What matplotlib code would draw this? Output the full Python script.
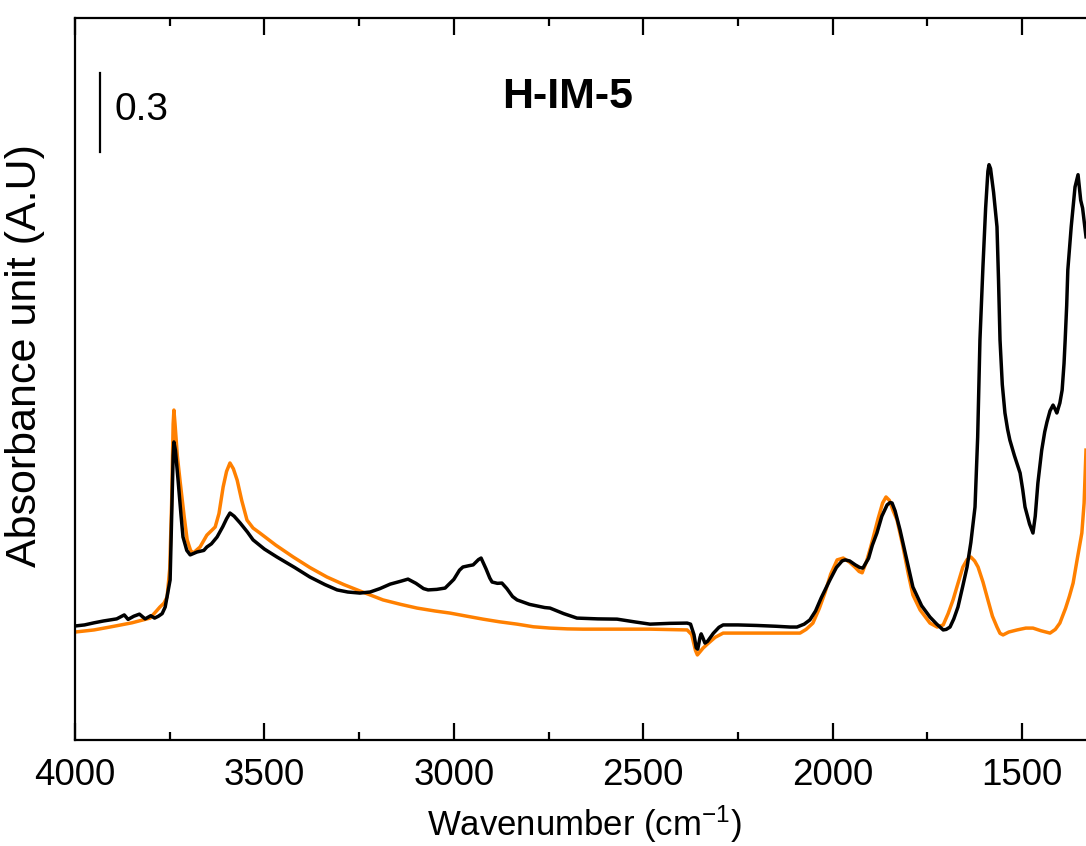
import matplotlib
matplotlib.use('Agg')
import matplotlib.pyplot as plt
from matplotlib.ticker import MultipleLocator

plt.rcParams['font.family'] = ['Liberation Sans', 'DejaVu Sans']
plt.rcParams['mathtext.fontset'] = 'custom'
plt.rcParams['mathtext.rm'] = 'Liberation Sans'
plt.rcParams['mathtext.default'] = 'regular'

# H-IM-5 spectra, wavenumber (cm-1) vs absorbance (A.U, arbitrary offset)
wn_black = [4000, 3975, 3950, 3925, 3908, 3890, 3870, 3860, 3845, 3830, 3815, 3800,
            3790, 3780, 3770, 3762, 3749, 3745, 3741, 3739, 3735, 3728, 3720, 3715,
            3705, 3696, 3678, 3660, 3652, 3640, 3625, 3610, 3600, 3591, 3580, 3564,
            3545, 3530, 3500, 3467, 3420, 3380, 3340, 3308, 3280, 3248, 3221, 3195,
            3168, 3140, 3121, 3100, 3080, 3068, 3045, 3023, 3000, 2985, 2976, 2960,
            2949, 2935, 2928, 2915, 2905, 2899, 2885, 2873, 2860, 2845, 2833, 2800,
            2760, 2746, 2710, 2675, 2620, 2569, 2520, 2482, 2430, 2384, 2375, 2366,
            2360, 2356, 2350, 2347, 2343, 2337, 2330, 2315, 2300, 2289, 2250, 2200,
            2150, 2112, 2094, 2075, 2060, 2045, 2030, 2007, 1990, 1975, 1967, 1955,
            1940, 1928, 1920, 1905, 1895, 1883, 1870, 1856, 1848, 1843, 1835, 1822,
            1805, 1788, 1765, 1743, 1725, 1708, 1700, 1690, 1680, 1669, 1657, 1645,
            1635, 1624, 1617, 1611, 1603, 1596, 1590, 1587, 1583, 1575, 1566, 1562,
            1558, 1552, 1545, 1538, 1532, 1520, 1505, 1498, 1492, 1480, 1471, 1465,
            1458, 1448, 1440, 1434, 1426, 1418, 1412, 1408, 1400, 1394, 1389, 1386,
            1382, 1379, 1370, 1360, 1355, 1352, 1345, 1340, 1331]
ab_black = [0.433, 0.437, 0.445, 0.452, 0.456, 0.460, 0.475, 0.458, 0.470, 0.478, 0.460, 0.472,
            0.463, 0.470, 0.480, 0.505, 0.608, 0.850, 1.080, 1.132, 1.100, 0.987, 0.850, 0.771,
            0.720, 0.703, 0.714, 0.720, 0.733, 0.745, 0.771, 0.810, 0.840, 0.862, 0.850, 0.824,
            0.790, 0.760, 0.725, 0.695, 0.655, 0.619, 0.590, 0.570, 0.562, 0.558, 0.562, 0.575,
            0.592, 0.603, 0.611, 0.595, 0.575, 0.570, 0.572, 0.577, 0.610, 0.645, 0.657, 0.662,
            0.665, 0.685, 0.691, 0.650, 0.615, 0.600, 0.595, 0.596, 0.575, 0.545, 0.532, 0.515,
            0.503, 0.501, 0.480, 0.463, 0.460, 0.459, 0.448, 0.440, 0.443, 0.444, 0.440, 0.400,
            0.350, 0.345, 0.390, 0.403, 0.390, 0.368, 0.375, 0.405, 0.428, 0.437, 0.437, 0.435,
            0.432, 0.429, 0.429, 0.440, 0.456, 0.490, 0.540, 0.608, 0.655, 0.680, 0.684, 0.680,
            0.665, 0.655, 0.653, 0.690, 0.740, 0.786, 0.850, 0.893, 0.902, 0.900, 0.870, 0.798,
            0.690, 0.581, 0.510, 0.467, 0.440, 0.418, 0.420, 0.429, 0.460, 0.505, 0.580, 0.657,
            0.750, 0.885, 1.150, 1.519, 1.800, 2.020, 2.160, 2.185, 2.170, 2.080, 1.949, 1.750,
            1.519, 1.350, 1.242, 1.180, 1.139, 1.080, 1.014, 0.950, 0.885, 0.820, 0.786, 0.850,
            0.976, 1.100, 1.170, 1.208, 1.250, 1.272, 1.255, 1.242, 1.280, 1.329, 1.430, 1.519,
            1.650, 1.785, 1.950, 2.100, 2.130, 2.147, 2.050, 2.020, 1.911]

wn_orange = [4000, 3950, 3908, 3850, 3802, 3785, 3776, 3765, 3757, 3750, 3745, 3741,
             3739, 3736, 3730, 3723, 3712, 3704, 3695, 3688, 3670, 3652, 3630, 3620,
             3609, 3600, 3591, 3582, 3572, 3560, 3546, 3530, 3512, 3470, 3424, 3380,
             3335, 3290, 3248, 3187, 3140, 3097, 3050, 3010, 2965, 2923, 2880, 2833,
             2790, 2746, 2700, 2659, 2482, 2384, 2372, 2362, 2357, 2350, 2342, 2330,
             2310, 2289, 2131, 2086, 2070, 2052, 2035, 2020, 2005, 1988, 1972, 1955,
             1940, 1930, 1922, 1910, 1900, 1893, 1880, 1868, 1859, 1850, 1840, 1830,
             1815, 1800, 1788, 1769, 1743, 1724, 1708, 1695, 1682, 1670, 1656, 1645,
             1635, 1625, 1616, 1603, 1590, 1578, 1566, 1558, 1550, 1535, 1513, 1490,
             1471, 1450, 1426, 1412, 1400, 1385, 1375, 1365, 1355, 1342, 1336, 1331]
ab_orange = [0.410, 0.418, 0.429, 0.445, 0.463, 0.490, 0.505, 0.520, 0.543, 0.650, 0.900, 1.200,
             1.253, 1.200, 1.080, 0.987, 0.850, 0.760, 0.720, 0.710, 0.733, 0.778, 0.809, 0.860,
             0.961, 1.020, 1.052, 1.030, 0.987, 0.910, 0.835, 0.805, 0.786, 0.740, 0.695, 0.655,
             0.619, 0.590, 0.566, 0.532, 0.515, 0.501, 0.490, 0.482, 0.470, 0.459, 0.449, 0.440,
             0.430, 0.425, 0.422, 0.421, 0.421, 0.418, 0.400, 0.340, 0.323, 0.335, 0.349, 0.365,
             0.390, 0.406, 0.406, 0.406, 0.420, 0.444, 0.500, 0.560, 0.630, 0.684, 0.691, 0.675,
             0.655, 0.640, 0.635, 0.680, 0.730, 0.768, 0.840, 0.900, 0.923, 0.910, 0.870, 0.836,
             0.740, 0.630, 0.551, 0.494, 0.444, 0.429, 0.437, 0.480, 0.532, 0.590, 0.657, 0.685,
             0.695, 0.680, 0.657, 0.600, 0.532, 0.470, 0.429, 0.405, 0.399, 0.410, 0.418, 0.425,
             0.425, 0.415, 0.406, 0.420, 0.444, 0.500, 0.545, 0.596, 0.680, 0.786, 0.900, 1.101]

fig = plt.figure(figsize=(10.86, 8.46), dpi=100)
ax = fig.add_axes([0.0691, 0.1253, 0.9309, 0.8534])

ax.plot(wn_orange, ab_orange, color='#ff8000', lw=2.5)
ax.plot(wn_black, ab_black, color='black', lw=2.5)

# 0.3 scale bar
ax.plot([3934, 3934], [2.232, 2.532], color='black', lw=1.6)
ax.text(3897, 2.392, '0.3', fontsize=28, ha='left', va='center')
ax.text(0.487, 0.89, 'H-IM-5', transform=ax.transAxes, fontsize=31,
        fontweight='bold', ha='center', va='center')

ax.set_xlim(4000, 1331)
ax.set_ylim(0, 2.742)
ax.spines['right'].set_visible(False)
for s in ['left', 'top', 'bottom']:
    ax.spines[s].set_linewidth(1.6)

ax.xaxis.set_major_locator(MultipleLocator(500))
ax.xaxis.set_minor_locator(MultipleLocator(250))
ax.tick_params(axis='x', which='both', direction='in', top=True, width=1.6,
               labelsize=26.5, pad=13)
ax.tick_params(axis='x', which='major', length=12)
ax.tick_params(axis='x', which='minor', length=6)
ax.set_yticks([])

ax.set_xlabel(r'Wavenumber (cm$^{-1}$)', fontsize=25)
ax.xaxis.set_label_coords(0.504, -0.088)
ax.set_ylabel('Absorbance unit (A.U)', fontsize=31)
ax.yaxis.set_label_coords(-0.030, 0.533)

fig.savefig('out.png', dpi=100)
